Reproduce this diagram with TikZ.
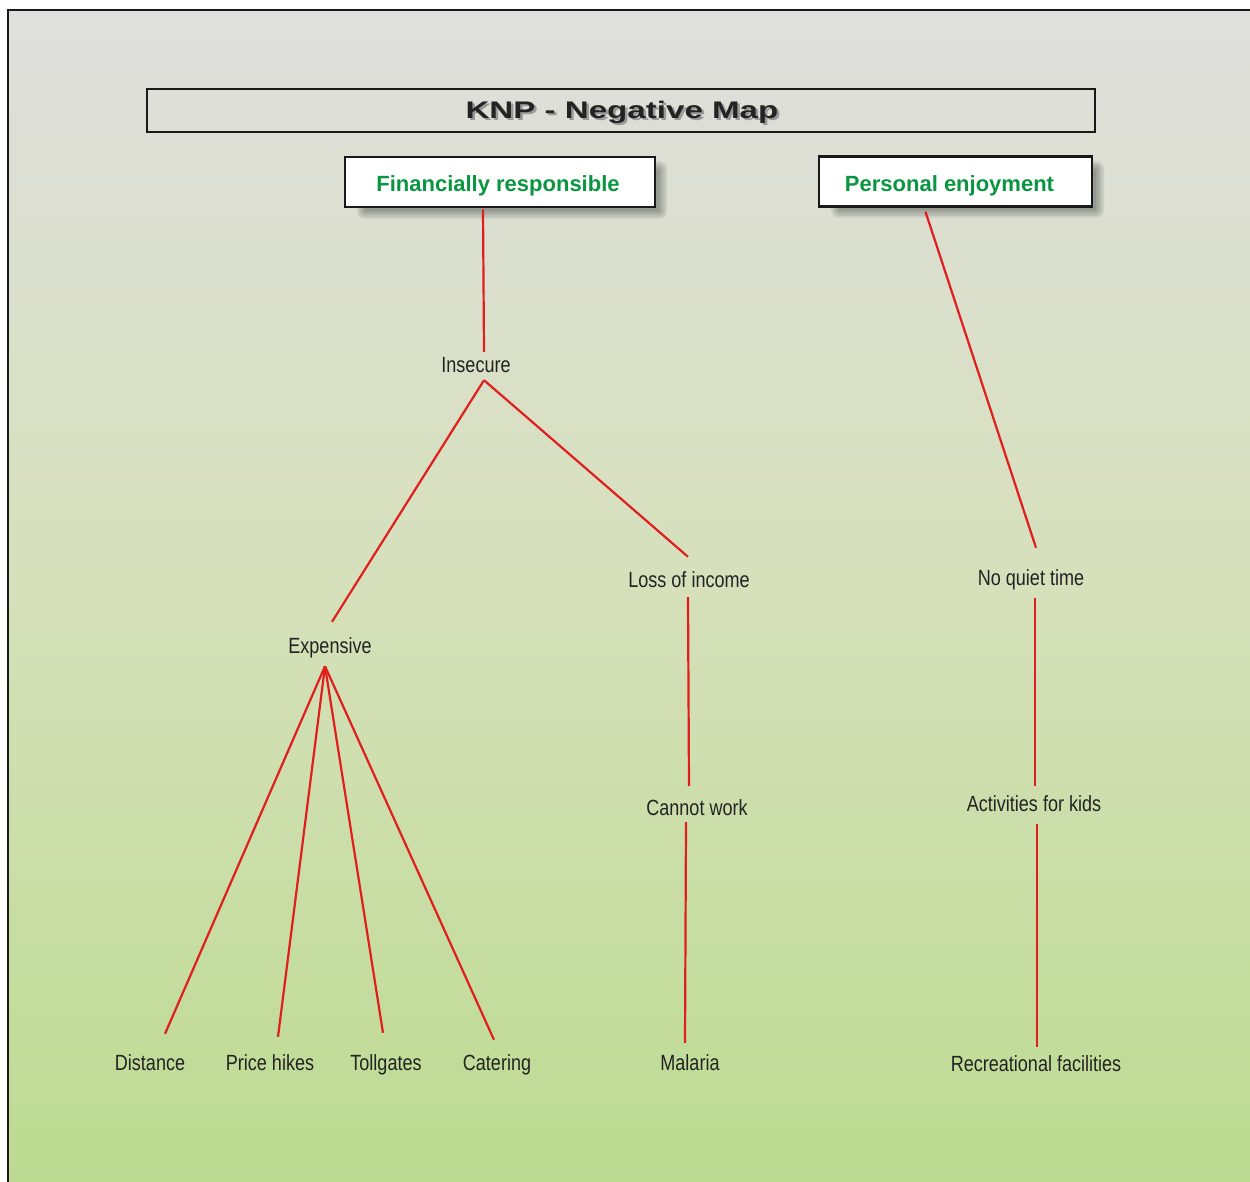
\documentclass[tikz,border=0pt]{standalone}
\usepackage{fontspec}
\setmainfont{Liberation Sans}
\newfontfamily\narrowfont[FakeStretch=0.82]{Liberation Sans}
\newfontfamily\widefont[FakeStretch=1.38]{Liberation Sans Bold}
\usetikzlibrary{calc}
\definecolor{bgtop}{RGB}{223,223,221}
\definecolor{bgmid}{RGB}{214,224,186}
\definecolor{bgbot}{RGB}{188,219,145}
\definecolor{linkred}{RGB}{224,30,30}
\definecolor{headgreen}{RGB}{10,150,65}
\definecolor{labelgray}{RGB}{35,35,35}
\newcommand{\shadowedtitle}[1]{\rlap{\hspace*{2.5pt}\raisebox{-2.5pt}{\textcolor{black!40}{#1}}}#1}
\tikzset{
  lbl/.style={font=\narrowfont\fontsize{22}{24}\selectfont, text=labelgray,
    anchor=base, text height=16pt, text depth=5pt, inner ysep=5pt, inner xsep=2pt},
  headbox/.style={draw=black!90, line width=2.6pt, fill=white,
    minimum height=50pt, text height=20.5pt, text depth=0.5pt,
    font=\bfseries\fontsize{22}{24}\selectfont, text=headgreen},
  link/.style={draw=linkred, line width=2.2pt},
  softshadow/.style={fill=black, fill opacity=0.07, draw=none}
}
\begin{document}
\begin{tikzpicture}[x=1pt,y=-1pt]
\useasboundingbox (0,0) rectangle (1250,1182);
\fill[white] (0,0) rectangle (1250,1182);
\shade[top color=bgtop, bottom color=bgbot, middle color=bgmid] (8,10) rectangle (1250,1182);
\draw[line width=2.6pt, black!90] (8,1182) -- (8,10) -- (1250,10);

% soft shadows of the header boxes
\foreach \s in {0,2,4,6,8} {
  \fill[softshadow, rounded corners=\s] (345+8-\s+12,157+8-\s+4) rectangle (655+8+\s-4,207+8+\s-4);
  \fill[softshadow, rounded corners=\s] (819+8-\s+12,157+8-\s+4) rectangle (1092+8+\s-4,206+8+\s-4);
}

% title
\node[draw=black!90, line width=2.6pt, minimum width=948pt, minimum height=43pt] (title) at (621,110.5) {};
\node[font=\widefont\fontsize{24}{26}\selectfont, text=labelgray] (titletext) at (622,113.5) {\shadowedtitle{KNP - Negative Map}};

% header boxes
\node[headbox, minimum width=310pt] (fr) at (500,182) {\hspace*{-4pt}Financially responsible};
\node[headbox, minimum width=273pt] (pe) at (955.5,181.5) {\hspace*{-12pt}Personal enjoyment};

% labels
\node[lbl] (ins) at (476,372) {Insecure};
\node[lbl] (loss) at (689,587) {Loss of income};
\node[lbl] (exp) at (330,653) {Expensive};
\node[lbl] (nqt) at (1031,585) {No quiet time};
\node[lbl] (cw) at (697,815) {Cannot work};
\node[lbl] (act) at (1034,811) {Activities for kids};
\node[lbl] (dist) at (150,1070) {Distance};
\node[lbl] (ph) at (270,1070) {Price hikes};
\node[lbl] (toll) at (386,1070) {Tollgates};
\node[lbl] (cat) at (497,1070) {Catering};
\node[lbl] (mal) at (690,1070) {Malaria};
\node[lbl] (rec) at (1036,1071) {Recreational facilities};

% connectors
\coordinate (insbot) at ($(ins.south)+(8,-2)$);
\coordinate (expbot) at ($(exp.south)+(-5,3)$);
\draw[link] ($(fr.south)+(-17,1)$) -- ($(ins.north)+(8,1)$);
\draw[link] (insbot) -- ($(exp.north)+(2,-10)$);
\draw[link] (insbot) -- ($(loss.north)+(-1,-9)$);
\draw[link] (expbot) -- ($(dist.north)+(15,-15)$);
\draw[link] (expbot) -- ($(ph.north)+(8,-12)$);
\draw[link] (expbot) -- ($(toll.north)+(-3,-16)$);
\draw[link] (expbot) -- ($(cat.north)+(-3,-9)$);
\draw[link] ($(loss.south)+(-1,0)$) -- ($(cw.north)+(-8,-8)$);
\draw[link] ($(cw.south)+(-11,-3)$) -- ($(mal.north)+(-5,-6)$);
\draw[link] ($(pe.south)+(-30,4)$) -- ($(nqt.north)+(5,-16)$);
\draw[link] ($(nqt.south)+(4,3)$) -- ($(act.north)+(1,-4)$);
\draw[link] ($(act.south)+(3,3)$) -- ($(rec.north)+(1,-3)$);
\end{tikzpicture}
\end{document}
